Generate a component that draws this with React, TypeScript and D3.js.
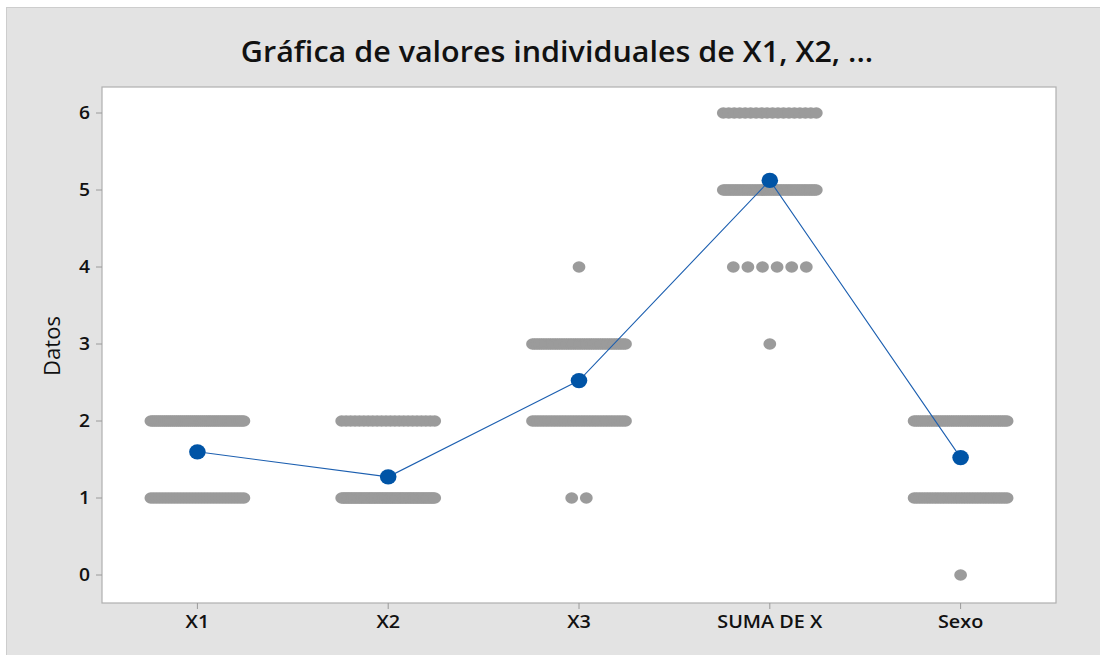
import React from "react";
import * as d3 from "d3";

// ---- Data ----
const title = "Gráfica de valores individuales de X1, X2, ...";
const yLabel = "Datos";
const categories = ["X1", "X2", "X3", "SUMA DE X", "Sexo"];
const yTicks = [0, 1, 2, 3, 4, 5, 6];
// value levels and how many observations sit on each level, per column
const valueLevels = [0, 1, 2, 3, 4, 5, 6];
const x1Counts = [0, 32, 48, 0, 0, 0, 0];
const x2Counts = [0, 58, 22, 0, 0, 0, 0];
const x3Counts = [0, 2, 35, 42, 1, 0, 0];
const sumaCounts = [0, 0, 0, 1, 6, 55, 18];
const sexoCounts = [1, 36, 43, 0, 0, 0, 0];
const seriesCounts = [x1Counts, x2Counts, x3Counts, sumaCounts, sexoCounts];

// ---- Layout ----
const W = 1100;
const H = 655;
const plot = { left: 102, right: 1056, top: 87, bottom: 603 };

function Stretched({ x, y, sx, children }: { x: number; y: number; sx: number; children: React.ReactNode }) {
  return <g transform={`translate(${x},${y}) scale(${sx},1)`}>{children}</g>;
}

export default function App() {
  const x = d3
    .scalePoint<string>()
    .domain(categories)
    .range([plot.left, plot.right])
    .padding(0.5);
  const y = d3.scaleLinear().domain([0, 6]).range([575, 113]);

  const dots: { cx: number; cy: number; key: string }[] = [];
  const means: { cx: number; cy: number; cat: string }[] = [];
  categories.forEach((cat, ci) => {
    const counts = seriesCounts[ci];
    let sum = 0;
    let n = 0;
    counts.forEach((k, li) => {
      const v = valueLevels[li];
      sum += v * k;
      n += k;
      if (k === 0) return;
      const half = Math.min(46.5, 7.3 * (k - 1));
      for (let i = 0; i < k; i++) {
        const off = k === 1 ? 0 : -half + (2 * half * i) / (k - 1);
        dots.push({ cx: (x(cat) as number) + off, cy: y(v), key: `${cat}-${v}-${i}` });
      }
    });
    means.push({ cx: x(cat) as number, cy: y(sum / n), cat });
  });

  const line = d3
    .line<{ cx: number; cy: number }>()
    .x((d) => d.cx)
    .y((d) => d.cy);

  const font = "'Open Sans', 'Noto Sans', sans-serif";
  const sx = 1.1;

  return (
    <svg width={W} height={H} style={{ position: "absolute", left: 0, top: 0 }} fontFamily={font}>
      <rect x={0} y={0} width={W} height={H} fill="#ffffff" />
      <rect x={6} y={7} width={W - 6} height={H - 7} fill="#e3e3e3" />
      <line x1={6} y1={7.5} x2={W} y2={7.5} stroke="#cdcdcd" />
      <line x1={6.5} y1={7} x2={6.5} y2={H} stroke="#cdcdcd" />
      <rect
        x={plot.left}
        y={plot.top}
        width={plot.right - plot.left}
        height={plot.bottom - plot.top}
        fill="#ffffff"
        stroke="#b0b0b0"
        strokeWidth={1.2}
      />
      <Stretched x={557} y={62} sx={1.09}>
        <text textAnchor="middle" fontSize={28} fontWeight={600} fill="#111">
          {title}
        </text>
      </Stretched>
      <Stretched x={60} y={346} sx={1}>
        <text transform="rotate(-90)" textAnchor="middle" fontSize={22} fill="#111">
          {yLabel}
        </text>
      </Stretched>
      {yTicks.map((t) => (
        <g key={t}>
          <line x1={96} x2={plot.left} y1={y(t)} y2={y(t)} stroke="#9a9a9a" />
          <Stretched x={90} y={y(t)} sx={sx}>
            <text dy="0.36em" textAnchor="end" fontSize={17.5} fontWeight={600} fill="#111">
              {t}
            </text>
          </Stretched>
        </g>
      ))}
      {categories.map((c) => (
        <g key={c}>
          <line x1={x(c)} x2={x(c)} y1={plot.bottom} y2={plot.bottom + 6} stroke="#9a9a9a" />
          <Stretched x={x(c) as number} y={628} sx={sx}>
            <text textAnchor="middle" fontSize={18} fontWeight={600} fill="#111">
              {c}
            </text>
          </Stretched>
        </g>
      ))}
      {dots.map((d) => (
        <ellipse key={d.key} cx={d.cx} cy={d.cy} rx={6.4} ry={5.8} fill="#9b9b9b" />
      ))}
      <path d={line(means) || ""} fill="none" stroke="#1c5fb0" strokeWidth={1.1} />
      {means.map((m) => (
        <ellipse key={m.cat} cx={m.cx} cy={m.cy} rx={8.3} ry={7.6} fill="#0054a6" />
      ))}
    </svg>
  );
}
